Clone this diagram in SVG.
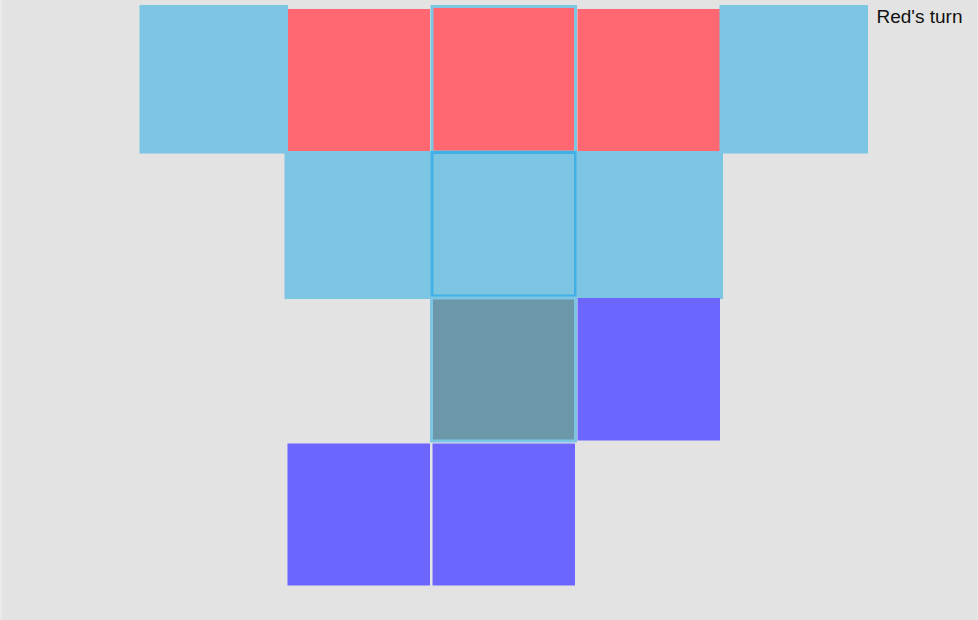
<svg xmlns="http://www.w3.org/2000/svg" width="978" height="620" viewBox="0 0 978 620">
<style>
.blue{fill:#7cc6e4}
.red{fill:#ff6870}
.purple{fill:#6c66ff}
.teal{fill:#6b97a8}
.sel{fill:none;stroke:#7cc6e4;stroke-width:3}
.sel2{fill:none;stroke:#40b0e6;stroke-width:3}
.label{font-family:"Liberation Sans",Arial,sans-serif;font-size:19px;fill:#111}
</style>
<rect x="0" y="0" width="978" height="620" fill="#ececec"/>
<rect x="1.5" y="0" width="976" height="620" fill="#e3e3e3"/>
<g id="cell-r1c1"><rect class="blue" x="139.5" y="5" width="148.5" height="148.5"/></g>
<g id="cell-r1c2"><rect class="red" x="288" y="9" width="142" height="142"/></g>
<g id="cell-r1c3"><rect class="red" x="431" y="8" width="145" height="144"/><rect class="sel" x="432" y="6.5" width="143.5" height="145.5"/></g>
<g id="cell-r1c4"><rect class="red" x="577.5" y="9" width="142.5" height="142"/></g>
<g id="cell-r1c5"><rect class="blue" x="719.5" y="5" width="148.5" height="148.5"/></g>
<g id="cell-r2c1"><rect class="blue" x="284.5" y="151" width="146" height="148"/></g>
<g id="cell-r2c2"><rect class="blue" x="430.5" y="151" width="146" height="146.5"/><rect class="sel2" x="432" y="152.5" width="143.5" height="143.5"/></g>
<g id="cell-r2c3"><rect class="blue" x="576.5" y="151" width="146.5" height="148"/></g>
<g id="cell-r3c2"><rect class="teal" x="430.5" y="298" width="146" height="144"/><rect class="sel" x="431.5" y="298" width="144" height="143"/></g>
<g id="cell-r3c3"><rect class="purple" x="577.5" y="298" width="142.5" height="142.5"/></g>
<g id="cell-r4c1"><rect class="purple" x="287.5" y="443.5" width="142.5" height="142"/></g>
<g id="cell-r4c2"><rect class="purple" x="432.5" y="443.5" width="142.5" height="142"/></g>
<g id="connectors"></g>
<g id="status"><text class="label" x="876.5" y="23">Red's turn</text></g>
</svg>
